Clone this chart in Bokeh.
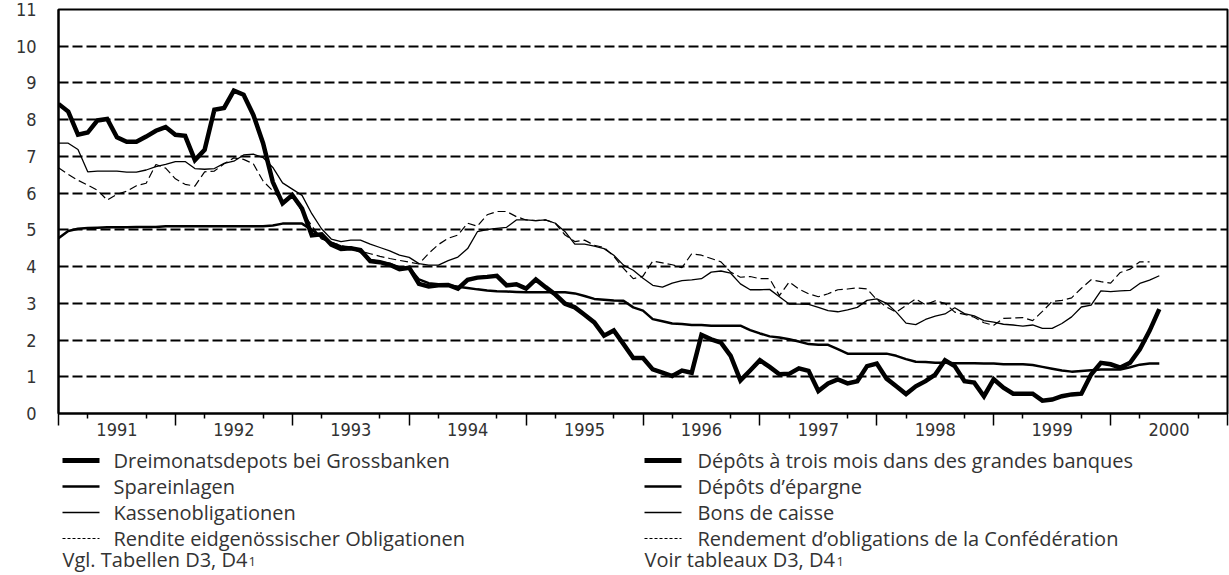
import pandas as pd
from bokeh.plotting import figure
from bokeh.models import Range1d, FixedTicker, LinearAxis, CustomLabelingPolicy
from bokeh.layouts import column
from bokeh.embed import file_html
from bokeh.resources import INLINE
from bokeh.core.properties import value

# ---------------- data (monthly, from January 1991) ----------------
start_month = "1991-01"

dreimonat = [8.43, 8.22, 7.59, 7.65, 7.98, 8.02, 7.52, 7.40, 7.40, 7.54, 7.70, 7.80,
             7.59, 7.56, 6.90, 7.18, 8.27, 8.32, 8.79, 8.68, 8.13, 7.36, 6.30, 5.72,
             5.95, 5.58, 4.85, 4.88, 4.60, 4.48, 4.50, 4.45, 4.15, 4.12, 4.05, 3.93,
             3.97, 3.53, 3.46, 3.49, 3.50, 3.40, 3.64, 3.70, 3.72, 3.75, 3.49, 3.52,
             3.40, 3.65, 3.44, 3.24, 2.99, 2.89, 2.69, 2.48, 2.12, 2.26, 1.89, 1.51,
             1.51, 1.20, 1.11, 1.02, 1.17, 1.11, 2.14, 2.02, 1.93, 1.57, 0.90, 1.17,
             1.45, 1.27, 1.07, 1.08, 1.23, 1.16, 0.61, 0.82, 0.93, 0.82, 0.88, 1.29,
             1.36, 0.95, 0.74, 0.53, 0.74, 0.88, 1.06, 1.45, 1.29, 0.88, 0.84, 0.47,
             0.93, 0.70, 0.54, 0.54, 0.54, 0.35, 0.38, 0.47, 0.52, 0.54, 1.06, 1.38,
             1.34, 1.25, 1.38, 1.75, 2.25, 2.84]

spareinlagen = [4.77, 4.97, 5.03, 5.05, 5.06, 5.07, 5.07, 5.07, 5.08, 5.08, 5.08, 5.10,
                5.10, 5.10, 5.10, 5.10, 5.10, 5.10, 5.10, 5.10, 5.10, 5.10, 5.12, 5.17,
                5.17, 5.17, 5.00, 4.80, 4.65, 4.55, 4.52, 4.40, 4.18, 4.12, 4.08, 3.98,
                3.97, 3.65, 3.55, 3.52, 3.49, 3.45, 3.42, 3.38, 3.35, 3.33, 3.32, 3.31,
                3.30, 3.30, 3.30, 3.30, 3.30, 3.27, 3.20, 3.12, 3.10, 3.08, 3.07, 2.89,
                2.80, 2.57, 2.51, 2.45, 2.44, 2.41, 2.41, 2.39, 2.39, 2.39, 2.39, 2.27,
                2.18, 2.10, 2.07, 2.02, 1.96, 1.89, 1.87, 1.87, 1.75, 1.63, 1.63, 1.63,
                1.63, 1.63, 1.57, 1.48, 1.41, 1.40, 1.38, 1.38, 1.37, 1.37, 1.37, 1.36,
                1.36, 1.34, 1.34, 1.34, 1.32, 1.27, 1.22, 1.17, 1.14, 1.16, 1.18, 1.20,
                1.20, 1.20, 1.26, 1.33, 1.36, 1.36]

kassenobligationen = [7.36, 7.36, 7.19, 6.58, 6.60, 6.60, 6.60, 6.57, 6.57, 6.63, 6.72, 6.78,
                      6.86, 6.86, 6.67, 6.65, 6.67, 6.81, 6.87, 7.04, 7.06, 6.97, 6.70, 6.28,
                      6.11, 5.94, 5.44, 5.03, 4.75, 4.68, 4.72, 4.72, 4.61, 4.52, 4.43, 4.31,
                      4.25, 4.08, 4.04, 4.04, 4.16, 4.26, 4.49, 4.95, 5.01, 5.04, 5.07, 5.27,
                      5.27, 5.25, 5.27, 5.18, 4.95, 4.61, 4.61, 4.56, 4.49, 4.31, 4.04, 3.90,
                      3.68, 3.49, 3.44, 3.55, 3.62, 3.64, 3.67, 3.85, 3.88, 3.82, 3.53, 3.37,
                      3.37, 3.38, 3.18, 2.98, 2.98, 2.97, 2.89, 2.80, 2.77, 2.82, 2.89, 3.08,
                      3.12, 3.00, 2.76, 2.46, 2.42, 2.56, 2.65, 2.71, 2.88, 2.72, 2.66, 2.53,
                      2.49, 2.43, 2.41, 2.38, 2.41, 2.32, 2.32, 2.45, 2.63, 2.90, 2.95, 3.34,
                      3.32, 3.34, 3.35, 3.54, 3.63, 3.75]

rendite = [6.69, 6.51, 6.35, 6.22, 6.08, 5.81, 5.97, 6.05, 6.20, 6.27, 6.78, 6.68,
           6.39, 6.24, 6.19, 6.58, 6.60, 6.80, 6.96, 6.92, 6.80, 6.33, 6.06, 5.79,
           5.92, 5.50, 5.11, 4.75, 4.66, 4.57, 4.50, 4.42, 4.35, 4.28, 4.22, 4.17,
           4.12, 4.07, 4.36, 4.60, 4.77, 4.86, 5.18, 5.10, 5.41, 5.50, 5.50, 5.36,
           5.27, 5.25, 5.27, 5.18, 4.86, 4.68, 4.72, 4.58, 4.52, 4.28, 3.95, 3.67,
           3.74, 4.15, 4.10, 4.05, 3.97, 4.35, 4.31, 4.22, 4.13, 3.85, 3.71, 3.73,
           3.67, 3.67, 3.21, 3.58, 3.39, 3.26, 3.18, 3.26, 3.37, 3.39, 3.42, 3.39,
           3.10, 2.90, 2.76, 2.94, 3.12, 2.96, 3.07, 3.00, 2.76, 2.70, 2.62, 2.47,
           2.40, 2.59, 2.60, 2.61, 2.53, 2.78, 3.05, 3.08, 3.15, 3.41, 3.64, 3.59,
           3.55, 3.84, 3.93, 4.13, 4.13]

year_labels = ["1991", "1992", "1993", "1994", "1995", "1996", "1997", "1998", "1999", "2000"]
y_tick_values = [0, 1, 2, 3, 4, 5, 6, 7, 8, 9, 10, 11]

legend_de = ["Dreimonatsdepots bei Grossbanken", "Spareinlagen",
             "Kassenobligationen", "Rendite eidgenössischer Obligationen"]
legend_fr = ["Dépôts à trois mois dans des grandes banques", "Dépôts d’épargne",
             "Bons de caisse", "Rendement d’obligations de la Confédération"]
source_de = "Vgl. Tabellen D3, D4"
source_fr = "Voir tableaux D3, D4"
footnote_mark = "1"

# ---------------- helpers ----------------
def decimal_years(n):
    d = pd.date_range(start_month, periods=n, freq="MS")
    return list(d.year + (d.month - 1) / 12.0)

TICK_FONT = "DejaVu Sans Condensed, Open Sans"
TEXT_FONT = "Open Sans"
TEXT_COLOR = "#333333"

years = [int(s) for s in year_labels]
boundaries = [float(y) for y in years] + [float(years[-1] + 1)]
quarters = [y + q for y in years for q in (0.25, 0.75)]
mids = [y + 0.5 for y in years]

FRAME_LEFT, FRAME_W, RIGHT_PAD = 58, 1169, 2
TOP_PAD, FRAME_H, BOTTOM_PAD = 9, 404, 30

# ---------------- main chart ----------------
p = figure(frame_width=FRAME_W, frame_height=FRAME_H,
           x_range=Range1d(boundaries[0], boundaries[-1]), y_range=Range1d(0, 11),
           output_backend="svg", toolbar_location=None,
           min_border_left=FRAME_LEFT, min_border_right=RIGHT_PAD,
           min_border_top=TOP_PAD, min_border_bottom=BOTTOM_PAD)
p.background_fill_color = "white"
p.border_fill_color = "white"
p.outline_line_color = "black"
p.outline_line_width = 2

# y axis
ya = p.yaxis[0]
ya.ticker = FixedTicker(ticks=y_tick_values)
ya.major_tick_out = 0
ya.major_tick_in = 0
ya.minor_tick_out = 0
ya.minor_tick_in = 0
ya.axis_line_color = "black"
ya.axis_line_width = 2
ya.major_label_standoff = 22
ya.major_label_text_font = TICK_FONT
ya.major_label_text_font_size = "18px"
ya.major_label_text_color = TEXT_COLOR

# x axis: long ticks at year boundaries, short ticks at quarters, no labels
xa = p.xaxis[0]
xa.ticker = FixedTicker(ticks=boundaries, minor_ticks=quarters)
xa.major_tick_out = 12
xa.major_tick_in = 0
xa.minor_tick_out = 5
xa.minor_tick_in = 0
xa.major_tick_line_width = 1.5
xa.minor_tick_line_width = 1.5
xa.major_tick_line_color = "black"
xa.minor_tick_line_color = "black"
xa.axis_line_color = "black"
xa.axis_line_width = 2
xa.major_label_text_font_size = "1px"
xa.major_label_standoff = 0
xa.major_label_policy = CustomLabelingPolicy(
    code="for (const i of indices) { indices.unset(i) }\nreturn indices")

# second axis carrying the year labels, centred in each year
xb = LinearAxis(ticker=FixedTicker(ticks=mids),
                major_label_overrides={m: lab for m, lab in zip(mids, year_labels)})
xb.axis_line_color = None
xb.major_tick_line_color = None
xb.minor_tick_line_color = None
xb.major_tick_out = 0
xb.major_tick_in = 0
xb.minor_tick_out = 0
xb.minor_tick_in = 0
xb.major_label_standoff = -7
xb.major_label_text_font = TICK_FONT
xb.major_label_text_font_size = "18px"
xb.major_label_text_color = TEXT_COLOR
p.add_layout(xb, "below")

# grid
p.xgrid.visible = False
p.ygrid.ticker = FixedTicker(ticks=y_tick_values[1:-1])
p.ygrid.grid_line_color = "black"
p.ygrid.grid_line_width = 2
p.ygrid.grid_line_dash = "10 4"

# series
p.line(decimal_years(len(rendite)), rendite, line_color="black", line_width=1.2,
       line_dash="8 4")
p.line(decimal_years(len(kassenobligationen)), kassenobligationen, line_color="black",
       line_width=1.3)
p.line(decimal_years(len(spareinlagen)), spareinlagen, line_color="black", line_width=2.5)
p.line(decimal_years(len(dreimonat)), dreimonat, line_color="black", line_width=4.5,
       line_join="miter")

# ---------------- legend / notes (coordinates = page pixels) ----------------
top_of_q = TOP_PAD + FRAME_H + BOTTOM_PAD
LH = 575 - top_of_q
q = figure(frame_width=FRAME_W, frame_height=LH,
           x_range=Range1d(FRAME_LEFT, FRAME_LEFT + FRAME_W),
           y_range=Range1d(top_of_q + LH, top_of_q),
           output_backend="svg", toolbar_location=None,
           min_border_left=FRAME_LEFT, min_border_right=RIGHT_PAD,
           min_border_top=0, min_border_bottom=0)
q.axis.visible = False
q.grid.visible = False
q.outline_line_color = None
q.background_fill_color = "white"
q.border_fill_color = "white"

row_y = [460, 486, 512, 538, 559]
col_sample = [62, 644]
sample_len = 37
col_text = [113, 697]
styles = [dict(line_width=4.8), dict(line_width=2.5), dict(line_width=1.3),
          dict(line_width=1.2, line_dash="3 2")]

for c, names in enumerate([legend_de, legend_fr]):
    for r, name in enumerate(names):
        q.line([col_sample[c], col_sample[c] + sample_len], [row_y[r], row_y[r]],
               line_color="black", **styles[r])
    q.text(x=[col_text[c]] * len(names), y=row_y[:len(names)],
           text=names, text_baseline="middle", text_align="left",
           text_font=value(TEXT_FONT), text_font_size="20px", text_color=TEXT_COLOR)

yy = row_y[4]
q.text(x=[col_sample[0], col_sample[1]], y=[yy, yy], text=[source_de, source_fr],
       text_baseline="middle", text_align="left",
       text_font=value(TEXT_FONT), text_font_size="20px", text_color=TEXT_COLOR)
q.text(x=[col_sample[0] + 186, col_sample[1] + 192], y=[yy + 2, yy + 2],
       text=[footnote_mark, footnote_mark], text_baseline="middle", text_align="left",
       text_font=value(TEXT_FONT), text_font_size="13px", text_color=TEXT_COLOR)

layout = column(p, q, spacing=0)
open("out.html", "w").write(file_html(layout, INLINE, "Zinssätze"))
